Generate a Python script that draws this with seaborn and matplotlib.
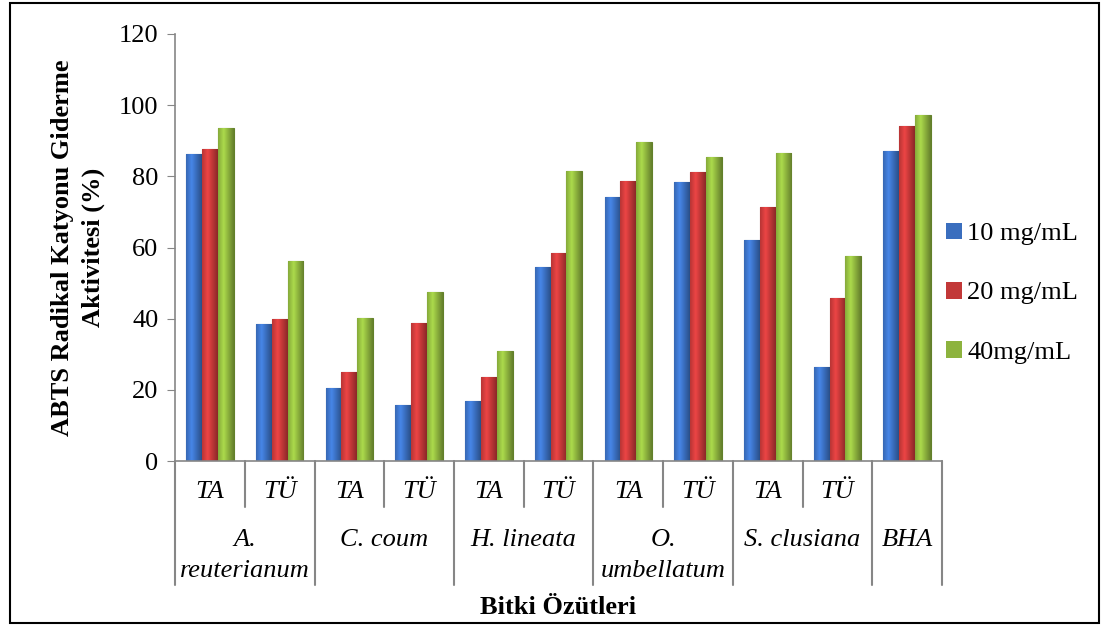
import seaborn as sns
import matplotlib.pyplot as plt
import pandas as pd
import numpy as np
from matplotlib.patches import Rectangle
from matplotlib.colors import to_rgb

turler = ['A.\nreuterianum', 'C. coum', 'H. lineata', 'O.\numbellatum', 'S. clusiana']
ekstrakt = ['TA', 'TÜ']
kontrol = 'BHA'
seriler = ['10 mg/mL', '20 mg/mL', '40mg/mL']

d10 = [86.3, 38.6, 20.6, 15.8, 16.9, 54.5, 74.2, 78.4, 62.2, 26.5, 87.2]
d20 = [87.8, 39.8, 24.9, 38.7, 23.6, 58.4, 78.7, 81.2, 71.3, 45.8, 94.2]
d40 = [93.7, 56.1, 40.3, 47.6, 30.9, 81.6, 89.6, 85.4, 86.6, 57.6, 97.1]

renkler = ['#3A6EBE', '#C23838', '#8DB33E']
kenar = ['#2A5290', '#8E2A2A', '#62802A']

# kategorien: art x ekstrakt, dann BHA
kategoriler = [f'{t} {e}' for t in turler for e in ekstrakt] + [kontrol]
df = pd.DataFrame({
    'kategori': kategoriler * 3,
    'seri': [s for s in seriler for _ in kategoriler],
    'deger': d10 + d20 + d40,
})

sns.set_style('white')
plt.rcParams['font.family'] = ['Liberation Serif']
plt.rcParams['text.color'] = 'black'
plt.rcParams['axes.labelcolor'] = 'black'
plt.rcParams['ytick.color'] = 'black'
fs = 19

fig = plt.figure(figsize=(11.01, 6.25), dpi=100)
ax = fig.add_axes([0.159, 0.2624, 0.6966, 0.6832])

sns.barplot(data=df, x='kategori', y='deger', hue='seri', order=kategoriler,
            hue_order=seriler, palette=renkler, width=0.68, ax=ax,
            edgecolor='none', saturation=1)

# Excel-artiger Schimmer auf den Balken
def verlauf(farbe):
    r = np.array(to_rgb(farbe))
    x = np.linspace(0, 1, 32)
    hell = 1 - np.abs(x - 0.35) / 0.65
    k = np.clip(r[None, :] * (0.72 + 0.5 * hell[:, None]), 0, 1)
    return k[None, :, :]

for i, cont in enumerate(ax.containers):
    img = verlauf(renkler[i])
    for bar in cont:
        bar.set_edgecolor(kenar[i])
        bar.set_linewidth(0.8)
        x0, y0 = bar.get_x(), bar.get_y()
        im = ax.imshow(img, extent=[x0, x0 + bar.get_width(), y0, y0 + bar.get_height()],
                       aspect='auto', zorder=bar.get_zorder() + 0.1, interpolation='bilinear')
        im.set_clip_path(bar)

ax.set_xlim(-0.5, len(kategoriler) - 0.5)
ax.set_ylim(0, 120)
ax.set_yticks(range(0, 121, 20))
ax.tick_params(axis='y', labelsize=fs, left=True, length=6, color='#868686',
               direction='out', pad=6)
ax.tick_params(axis='x', length=0, labelbottom=False)
for s in ['top', 'right']:
    ax.spines[s].set_visible(False)
for s in ['left', 'bottom']:
    ax.spines[s].set_color('#868686')
    ax.spines[s].set_linewidth(1.2)

ax.set_xlabel('')
ax.set_ylabel('ABTS Radikal Katyonu Giderme\nAktivitesi (%)', fontsize=fs,
              fontweight='bold', linespacing=1.42)
ax.yaxis.set_label_coords(-0.091, 0.5)

tr = ax.get_xaxis_transform()
# unterste ebene: TA / TÜ
for i, e in enumerate(ekstrakt * len(turler)):
    ax.text(i, -0.073, e, transform=tr, ha='center', va='center',
            fontsize=fs, style='italic')
    if i % 2 == 0:
        ax.plot([i + 0.5, i + 0.5], [0, -0.108], transform=tr, color='#868686',
                lw=1.5, clip_on=False)

# zweite ebene: arten
for j, t in enumerate(turler):
    ax.text(2 * j + 0.5, -0.160, t, transform=tr, ha='center', va='top',
            fontsize=fs, style='italic', linespacing=1.5)
n = len(kategoriler)
ax.text(n - 1, -0.160, kontrol, transform=tr, ha='center', va='top',
        fontsize=fs, style='italic')
for b in [2 * j - 0.5 for j in range(len(turler) + 1)] + [n - 0.5]:
    ax.plot([b, b], [0, -0.290], transform=tr, color='#868686', lw=1.5, clip_on=False)

ax.text(0.5, -0.343, 'Bitki Özütleri', transform=ax.transAxes, ha='center',
        va='center', fontsize=fs, fontweight='bold')

h, l = ax.get_legend_handles_labels()
ax.get_legend().remove()
fig.legend(h, l, loc='center left', bbox_to_anchor=(0.838, 0.531), frameon=False,
           fontsize=fs, handlelength=0.6, handleheight=0.6, handletextpad=0.2,
           labelspacing=1.38)

fig.patches.append(Rectangle((0.009, 0.004), 0.989, 0.991, transform=fig.transFigure,
                             fill=False, edgecolor='black', linewidth=1.5))

plt.savefig('out.png', dpi=100)
